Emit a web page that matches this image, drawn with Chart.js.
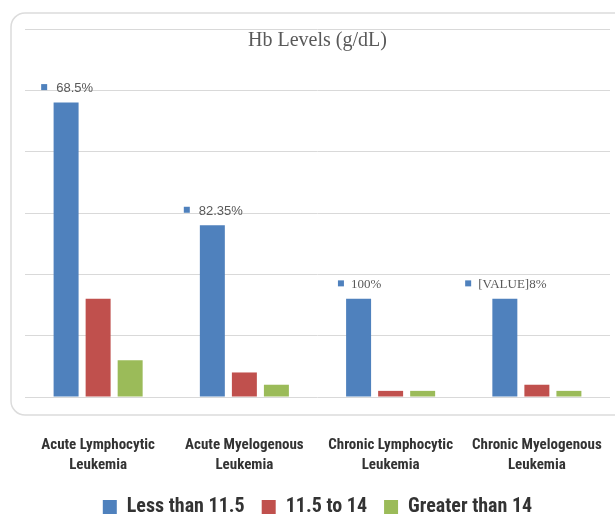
<!DOCTYPE html>
<html>
<head>
<meta charset="utf-8">
<script src="https://cdn.jsdelivr.net/npm/chart.js@4/dist/chart.umd.min.js"></script>
<style>
    html, body { margin: 0; padding: 0; background: #fff; overflow: hidden; }
</style>
</head>
<body>
<canvas id="hbChart" width="615" height="515"></canvas>
<script>
// chart values
const categories = [
    ['Acute Lymphocytic', 'Leukemia'],
    ['Acute Myelogenous', 'Leukemia'],
    ['Chronic Lymphocytic', 'Leukemia'],
    ['Chronic Myelogenous', 'Leukemia']
];
const seriesNames = ['Less than 11.5', '11.5 to 14', 'Greater than 14'];
const lessThan115 = [48, 28, 16, 16];
const between115And14 = [16, 4, 1, 2];
const greaterThan14 = [6, 2, 1, 1];
const blueBarLabels = ['68.5%', '82.35%', '100%', '[VALUE]8%'];
const yMax = 60;
const yStep = 10;

const narrowFont = '"Roboto Condensed", "Liberation Sans Narrow", Roboto, sans-serif';

// rounded frame behind the plot
const framePlugin = {
    id: 'frame',
    beforeDraw(chart) {
        const ctx = chart.ctx;
        ctx.save();
        ctx.strokeStyle = '#dcdcdc';
        ctx.lineWidth = 1.5;
        ctx.beginPath();
        ctx.roundRect(11, 13, 640, 402, 14);
        ctx.stroke();
        ctx.restore();
    }
};

// title sits inside the plot area, over the top grid line
const titlePlugin = {
    id: 'innerTitle',
    afterDraw(chart) {
        const ctx = chart.ctx;
        const area = chart.chartArea;
        ctx.save();
        ctx.font = '20px "Liberation Serif", serif';
        ctx.fillStyle = '#595959';
        ctx.textAlign = 'center';
        ctx.textBaseline = 'middle';
        ctx.fillText('Hb Levels (g/dL)', (area.left + area.right) / 2, area.top + 12);
        ctx.restore();
    }
};

// little legend-key square + text above each blue bar
const blueLabelPlugin = {
    id: 'blueLabels',
    afterDatasetsDraw(chart) {
        const ctx = chart.ctx;
        const meta = chart.getDatasetMeta(0);
        const fonts = [
            '13px "Liberation Sans", sans-serif',
            '13px "Liberation Sans", sans-serif',
            '13px "Liberation Serif", serif',
            '13px "Liberation Serif", serif'
        ];
        ctx.save();
        meta.data.forEach((bar, i) => {
            ctx.font = fonts[i];
            const text = blueBarLabels[i];
            const w = ctx.measureText(text).width;
            const gap = i < 2 ? 9 : 7;
            const total = 6 + gap + w;
            const startX = bar.x - total / 2 + 1;
            const y = bar.y - 14;
            ctx.fillStyle = '#4f81bd';
            ctx.fillRect(startX, y - 4.5, 6, 6);
            ctx.fillStyle = '#595959';
            ctx.textAlign = 'left';
            ctx.textBaseline = 'middle';
            ctx.fillText(text, startX + 6 + gap, y);
        });
        ctx.restore();
    }
};

const hbData = {
    labels: categories,
    datasets: [
        {
            label: seriesNames[0],
            data: lessThan115,
            backgroundColor: '#4f81bd'
        },
        {
            label: seriesNames[1],
            data: between115And14,
            backgroundColor: '#c0504d'
        },
        {
            label: seriesNames[2],
            data: greaterThan14,
            backgroundColor: '#9bbb59'
        }
    ]
};

const hbConfig = {
    type: 'bar',
    data: hbData,
    options: {
        responsive: false,
        animation: false,
        categoryPercentage: 0.657,
        barPercentage: 0.78,
        layout: {
            padding: { left: 25, right: 5, top: 29, bottom: -12 }
        },
        scales: {
            x: {
                grid: { display: false, drawTicks: false },
                border: { display: false },
                ticks: {
                    padding: 38,
                    maxRotation: 0,
                    minRotation: 0,
                    autoSkip: false,
                    color: '#333333',
                    font: { family: narrowFont, size: 15, weight: 'bold', lineHeight: 1.33 }
                },
                afterFit(scale) {
                    // labels hang far below the plot; keep the plot wide and tall
                    scale.height = 83;
                    scale.paddingLeft = 0;
                    scale.paddingRight = 0;
                }
            },
            y: {
                min: 0,
                max: yMax,
                grid: { color: '#d9d9d9', drawTicks: false },
                border: { display: false },
                ticks: { display: false, stepSize: yStep }
            }
        },
        plugins: {
            legend: {
                position: 'bottom',
                labels: {
                    boxWidth: 14,
                    boxHeight: 14,
                    padding: 17,
                    color: '#333333',
                    font: { family: narrowFont, size: 20, weight: 'bold' }
                }
            },
            title: { display: false },
            tooltip: { enabled: false }
        }
    },
    plugins: [framePlugin, titlePlugin, blueLabelPlugin]
};

const hbChartInstance = new Chart(document.getElementById('hbChart').getContext('2d'), hbConfig);
</script>
</body>
</html>
